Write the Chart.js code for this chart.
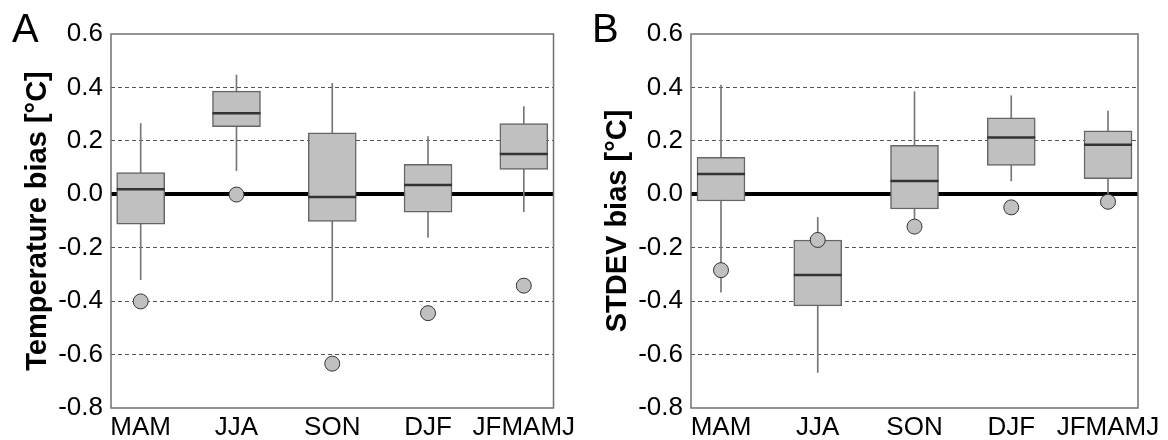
<!DOCTYPE html>
<html>
<head>
<meta charset="utf-8">
<script src="https://cdn.jsdelivr.net/npm/chart.js@4/dist/chart.umd.min.js"></script>
<style>
  body { margin: 0; background: #fff; }
  #wrap { position: relative; width: 1168px; height: 440px; overflow: hidden; }
  canvas { position: absolute; top: 0; }
  .letter { position: absolute; font: 40px 'Liberation Sans', Arial, sans-serif; line-height: 40px; color: #000; }
</style>
</head>
<body>
<div id="wrap">
  <canvas id="chartA" width="580" height="440" style="left:0px"></canvas>
  <canvas id="chartB" width="588" height="440" style="left:580px"></canvas>
  <div class="letter" style="left:12px; top:8px">A</div>
  <div class="letter" style="left:592px; top:8px">B</div>
</div>
<script>
const seasons = ['MAM', 'JJA', 'SON', 'DJF', 'JFMAMJ'];
const yTicks = [-0.8, -0.6, -0.4, -0.2, 0.0, 0.2, 0.4, 0.6];

// A: temperature bias
const tempLow = [-0.320, 0.088, -0.398, -0.161, -0.065];
const tempQ1 = [-0.112, 0.253, -0.102, -0.067, 0.093];
const tempMedian = [0.019, 0.303, -0.010, 0.035, 0.151];
const tempQ3 = [0.081, 0.386, 0.230, 0.112, 0.265];
const tempHigh = [0.265, 0.446, 0.415, 0.216, 0.328];
const tempPoint = [-0.401, -0.001, -0.634, -0.445, -0.342];

// B: stdev bias
const sdLow = [-0.366, -0.667, -0.093, 0.050, -0.003];
const sdQ1 = [-0.025, -0.418, -0.055, 0.108, 0.058];
const sdMedian = [0.076, -0.302, 0.050, 0.213, 0.185];
const sdQ3 = [0.138, -0.171, 0.183, 0.286, 0.238];
const sdHigh = [0.409, -0.086, 0.384, 0.369, 0.311];
const sdPoint = [-0.284, -0.171, -0.121, -0.049, -0.028];

Chart.defaults.font.family = "'Liberation Sans', Arial, sans-serif";
Chart.defaults.color = '#000';

const frame = {
  id: 'frame',
  afterDraw(chart) {
    const { ctx, chartArea: a } = chart;
    ctx.save();
    ctx.strokeStyle = '#707070';
    ctx.lineWidth = 1.5;
    ctx.strokeRect(a.left, a.top, a.right - a.left, a.bottom - a.top);
    ctx.restore();
  },
};

const isZero = (v) => Math.abs(v) < 1e-9;
const isEdge = (v) => Math.abs(v - 0.6) < 1e-9 || Math.abs(v + 0.8) < 1e-9;

function drawPanel(canvasId, titleText, low, q1, median, q3, high, points, rightPad) {
  const xs = seasons.map((_, i) => i + 1);

  const config = {
    type: 'bar',
    data: {
      datasets: [
        {
          type: 'scatter',
          data: xs.map((x, i) => ({ x: x, y: points[i] })),
          pointRadius: 7.5,
          pointBackgroundColor: '#c0c0c0',
          pointBorderColor: '#333',
          pointBorderWidth: 1,
          order: 0,
        },
        {
          type: 'scatter',
          data: xs.map((x, i) => ({ x: x, y: median[i] })),
          pointStyle: 'line',
          pointRadius: 24,
          pointBorderColor: '#333',
          pointBorderWidth: 2.5,
          order: 1,
        },
        {
          type: 'bar',
          data: xs.map((x, i) => ({ x: x, y: [q1[i], q3[i]] })),
          backgroundColor: '#c0c0c0',
          borderColor: '#666',
          borderWidth: 1.5,
          borderSkipped: false,
          barThickness: 48,
          grouped: false,
          order: 2,
        },
        {
          type: 'bar',
          data: xs.map((x, i) => ({ x: x, y: [low[i], high[i]] })),
          backgroundColor: '#777',
          borderWidth: 0,
          barThickness: 1,
          grouped: false,
          order: 3,
        },
      ],
    },
    options: {
      responsive: false,
      animation: false,
      events: [],
      layout: { padding: { top: 34, right: rightPad, left: 0, bottom: 0 } },
      plugins: {
        legend: { display: false },
        tooltip: { enabled: false },
      },
      scales: {
        x: {
          type: 'linear',
          min: 0.69,
          max: 5.31,
          offset: false,
          afterBuildTicks: (s) => {
            s.ticks = xs.map((v) => ({ value: v }));
          },
          afterFit: (s) => {
            s.height = 32;
            s.paddingLeft = 0;
            s.paddingRight = 0;
          },
          grid: { display: false, drawTicks: false, offset: false },
          border: { display: false },
          ticks: {
            padding: 4,
            autoSkip: false,
            maxRotation: 0,
            font: { size: 26 },
            color: '#000',
            callback: (v) => seasons[v - 1],
          },
        },
        y: {
          min: -0.8,
          max: 0.6,
          afterBuildTicks: (s) => {
            s.ticks = yTicks.map((v) => ({ value: v }));
          },
          afterFit: (s) => {
            s.width = 111;
            s.paddingTop = 0;
            s.paddingBottom = 0;
          },
          ticks: {
            padding: 8,
            font: { size: 26 },
            color: '#000',
            callback: (v) => v.toFixed(1),
          },
          grid: {
            drawTicks: false,
            color: (ctx) => (isEdge(ctx.tick.value) ? 'rgba(0,0,0,0)' : isZero(ctx.tick.value) ? '#000' : '#555'),
            lineWidth: (ctx) => (isZero(ctx.tick.value) ? 4 : 1),
          },
          border: {
            display: false,
            dash: (ctx) => (ctx.tick && isZero(ctx.tick.value) ? [] : [4, 3]),
          },
          title: {
            display: true,
            text: titleText,
            color: '#000',
            font: { size: 29, weight: 'bold' },
            padding: { top: 21, bottom: 0 },
          },
        },
      },
    },
    plugins: [frame],
  };

  const ctx = document.getElementById(canvasId).getContext('2d');
  return new Chart(ctx, config);
}

drawPanel('chartA', 'Temperature bias [°C]', tempLow, tempQ1, tempMedian, tempQ3, tempHigh, tempPoint, 21);
drawPanel('chartB', 'STDEV bias [°C]', sdLow, sdQ1, sdMedian, sdQ3, sdHigh, sdPoint, 30);
</script>
</body>
</html>
